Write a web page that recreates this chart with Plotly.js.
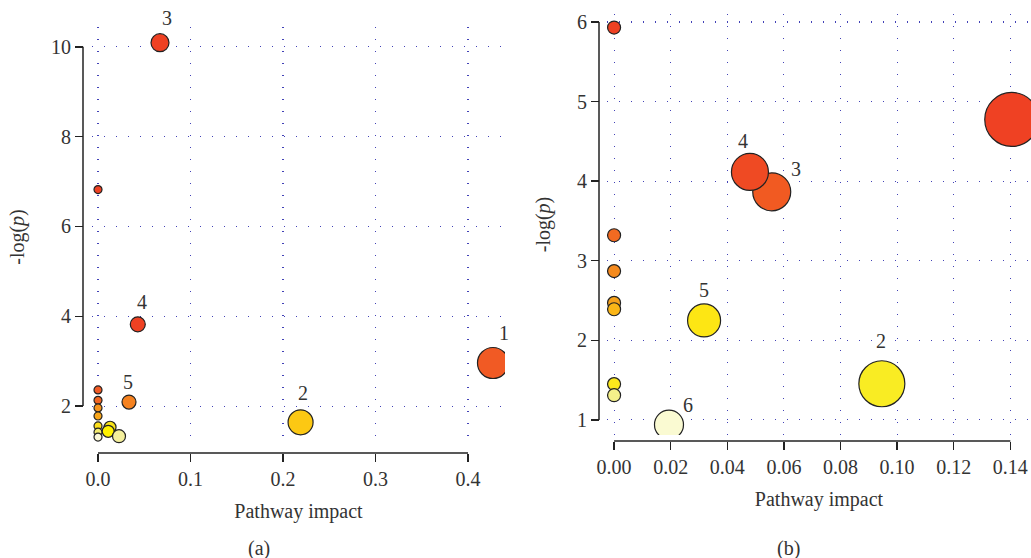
<!DOCTYPE html>
<html>
<head>
<meta charset="utf-8">
<script src="https://cdn.plot.ly/plotly-3.0.1.min.js"></script>
<style>html,body{margin:0;padding:0;background:#fff}#chart{width:1031px;height:558px}</style>
</head>
<body>
<div id="chart"></div>
<script>
// ---------- Panel (a) data ----------
const aImpact = [0.427, 0.219, 0.067, 0.043, 0.0335, 0, 0, 0, 0, 0, 0, 0, 0, 0.013, 0.011, 0.0227];
const aLogP   = [2.96, 1.64, 10.09, 3.82, 2.09, 6.82, 2.36, 2.13, 1.96, 1.78, 1.56, 1.42, 1.31, 1.53, 1.44, 1.33];
const aSize   = [31, 25, 18, 15, 14, 8, 8, 8, 8, 8, 8, 8, 8, 12, 12, 13];
const aColor  = ['#f15a24','#fcc813','#ef4123','#ef4123','#f58220','#ef4123','#f15a24','#f26522','#f7941d','#f9a61a','#fde01c','#f5ec70','#fbf8d8','#f7e21a','#fff200','#f4ef9c'];
const aLabel  = ['1','2','3','4','5','','','','','','','','','','',''];
const aXTicks = [0, 0.1, 0.2, 0.3, 0.4];
const aXTickText = ['0.0','0.1','0.2','0.3','0.4'];
const aYTicks = [2, 4, 6, 8, 10];

// ---------- Panel (b) data ----------
const bImpact = [0.1405, 0.0946, 0.0557, 0.048, 0.0318, 0.0194, 0, 0, 0, 0, 0, 0, 0];
const bLogP   = [4.775, 1.454, 3.866, 4.116, 2.25, 0.94, 5.93, 3.32, 2.87, 2.47, 2.39, 1.45, 1.31];
const bSize   = [54, 46, 38, 37, 33, 29, 13, 13, 13, 13, 13, 13, 13];
const bColor  = ['#ef4123','#f9ec23','#f15a22','#ef4a23','#fde614','#fafad2','#ef4123','#f26a21','#f58a1f','#f7a21b','#fbb617','#fce81c','#f5f08a'];
const bLabel  = ['1','2','3','4','5','6','','','','','','',''];
const bXTicks = [0, 0.02, 0.04, 0.06, 0.08, 0.10, 0.12, 0.14];
const bXTickText = ['0.00','0.02','0.04','0.06','0.08','0.10','0.12','0.14'];
const bYTicks = [1, 2, 3, 4, 5, 6];

// label offsets in pixels (style, not data)
const aLabelShift = {'1':[11,30],'2':[2,29],'3':[7,25],'4':[4,22],'5':[-1,20]};
const bLabelShift = {'1':[25,45],'2':[-1,43],'3':[24,23],'4':[-7,31],'5':[0,30],'6':[19,20]};

const FONT = 'Liberation Serif, "DejaVu Serif", serif';
const FS = 20;
const TXT = '#333333';
const GRID = 'rgba(45,45,175,0.9)';

function bubbles(x, y, s, c, xa, ya) {
  return {
    type: 'scatter', mode: 'markers', x: x, y: y, xaxis: xa, yaxis: ya,
    marker: {size: s, color: c, opacity: 1, line: {color: '#222222', width: 1.2}},
    hoverinfo: 'x+y', showlegend: false, cliponaxis: true
  };
}

const traces = [
  bubbles(aImpact, aLogP, aSize, aColor, 'x', 'y'),
  bubbles(bImpact, bLogP, bSize, bColor, 'x2', 'y2')
];

const annotations = [];
aLabel.forEach((t, i) => {
  if (!t) return;
  const sh = aLabelShift[t];
  annotations.push({x: aImpact[i], y: aLogP[i], xref: 'x', yref: 'y', text: t, showarrow: false,
    xshift: sh[0], yshift: sh[1], font: {family: FONT, size: FS, color: TXT}});
});
bLabel.forEach((t, i) => {
  if (!t) return;
  const sh = bLabelShift[t];
  annotations.push({x: bImpact[i], y: bLogP[i], xref: 'x2', yref: 'y2', text: t, showarrow: false,
    xshift: sh[0], yshift: sh[1], font: {family: FONT, size: FS, color: TXT}});
});
annotations.push({x: 259/1031, y: 1 - 548/558, xref: 'paper', yref: 'paper', text: '(a)', showarrow: false,
  xanchor: 'center', yanchor: 'middle', font: {family: FONT, size: FS, color: TXT}});
annotations.push({x: 788/1031, y: 1 - 548/558, xref: 'paper', yref: 'paper', text: '(b)', showarrow: false,
  xanchor: 'center', yanchor: 'middle', font: {family: FONT, size: FS, color: TXT}});

const axCommon = {
  showline: false, zeroline: false, ticks: 'outside', ticklen: 8, tickwidth: 1.5, tickcolor: '#222',
  showgrid: true, gridcolor: GRID, gridwidth: 1.1, griddash: '1px,11px',
  tickfont: {family: FONT, size: FS, color: TXT}, anchor: 'free', fixedrange: true
};

const posAX = 1 - 453/558, posAY = 83/1031, posBX = 1 - 441/558, posBY = 599/1031;

const layout = {
  width: 1031, height: 558, margin: {l: 0, r: 0, t: 0, b: 0},
  paper_bgcolor: '#ffffff', plot_bgcolor: '#ffffff', showlegend: false,
  xaxis: Object.assign({}, axCommon, {domain: [92/1031, 505/1031], range: [-0.0065, 0.44],
    position: posAX, tickvals: aXTicks, ticktext: aXTickText,
    title: {text: 'Pathway impact', font: {family: FONT, size: FS, color: TXT}, standoff: 14}}),
  yaxis: Object.assign({}, axCommon, {domain: [1 - 447/558, 1 - 27/558], range: [1.09, 10.44],
    position: posAY, tickvals: aYTicks,
    title: {text: '-log(<i>p</i>)', font: {family: FONT, size: FS, color: TXT}, standoff: 20}}),
  xaxis2: Object.assign({}, axCommon, {domain: [607/1031, 1], range: [-0.0025, 0.1473],
    position: posBX, tickvals: bXTicks, ticktext: bXTickText,
    title: {text: 'Pathway impact', font: {family: FONT, size: FS, color: TXT}, standoff: 14}}),
  yaxis2: Object.assign({}, axCommon, {domain: [1 - 435/558, 1 - 14/558], range: [0.81, 6.1],
    position: posBY, tickvals: bYTicks,
    title: {text: '-log(<i>p</i>)', font: {family: FONT, size: FS, color: TXT}, standoff: 20}}),
  shapes: [
    {type: 'line', xref: 'x', yref: 'paper', x0: aXTicks[0], x1: aXTicks[aXTicks.length-1], y0: posAX, y1: posAX, line: {color: '#222', width: 1.5}},
    {type: 'line', xref: 'paper', yref: 'y', x0: posAY, x1: posAY, y0: aYTicks[0], y1: aYTicks[aYTicks.length-1], line: {color: '#222', width: 1.5}},
    {type: 'line', xref: 'x2', yref: 'paper', x0: bXTicks[0], x1: bXTicks[bXTicks.length-1], y0: posBX, y1: posBX, line: {color: '#222', width: 1.5}},
    {type: 'line', xref: 'paper', yref: 'y2', x0: posBY, x1: posBY, y0: bYTicks[0], y1: bYTicks[bYTicks.length-1], line: {color: '#222', width: 1.5}}
  ],
  annotations: annotations
};

Plotly.newPlot('chart', traces, layout, {displayModeBar: false, staticPlot: true});
</script>
</body>
</html>
